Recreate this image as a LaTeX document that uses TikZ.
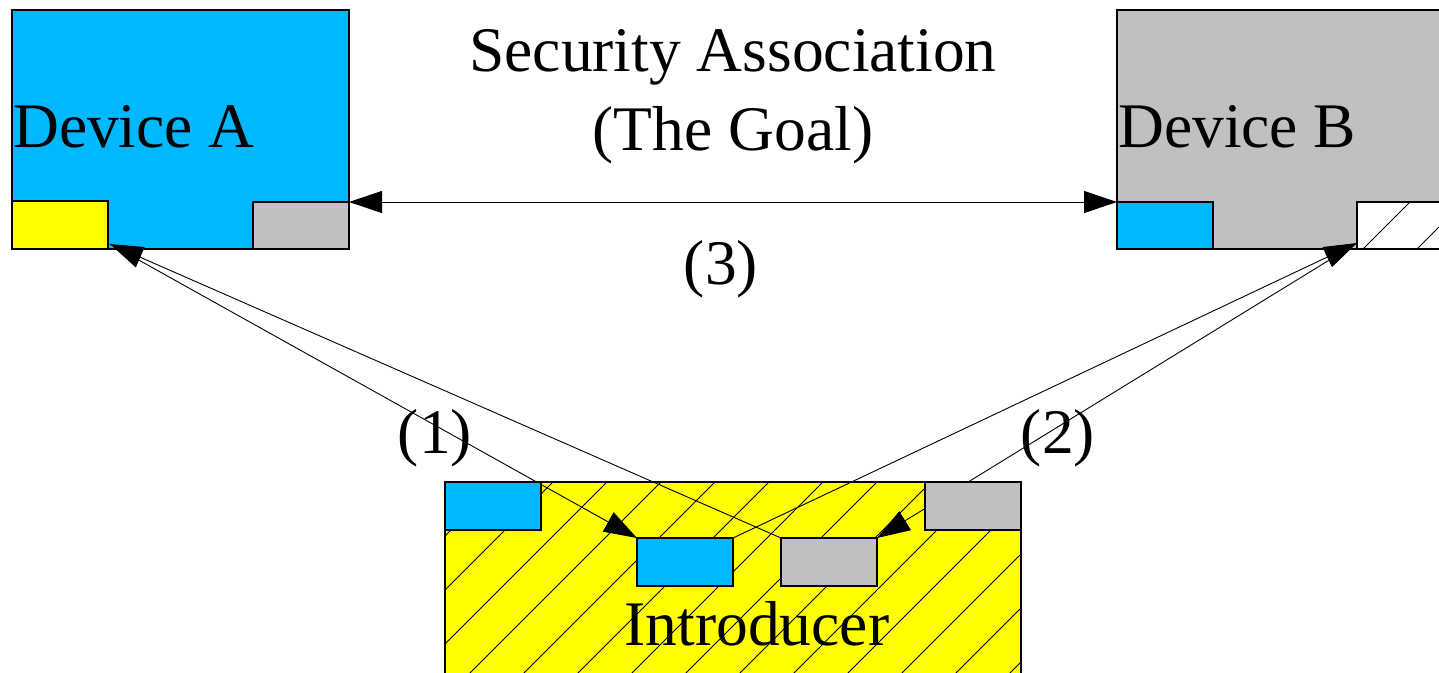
\documentclass[tikz,border=0pt]{standalone}
\usepackage{fontspec}
\setmainfont{Liberation Serif}
\usetikzlibrary{arrows.meta}
\definecolor{devcyan}{RGB}{0,184,255}
\definecolor{devgray}{RGB}{192,192,192}
\definecolor{devyellow}{RGB}{255,255,0}
\begin{document}
\begin{tikzpicture}[x=1pt,y=-1pt,
  box/.style={draw, line width=1.1pt, inner sep=0pt, outer sep=0pt, anchor=north west},
  small/.style={box, minimum width=96pt, minimum height=48pt},
  lbl/.style={font=\fontsize{63.5}{70}\selectfont, inner sep=0pt},
  conn/.style={line width=0.9pt},
  tipend/.style={-{Triangle[length=33pt,width=22pt]}},
  tipboth/.style={{Triangle[length=33pt,width=22pt]}-{Triangle[length=33pt,width=22pt]}},
  hatchline/.style={line width=0.8pt}]
\clip (0,0) rectangle (1439,672);
\fill[white] (0,0) rectangle (1439,672);

% Device A
\node[box, fill=devcyan, minimum width=337pt, minimum height=239pt] (devA) at (12,10) {};
\node[small, fill=devyellow, minimum height=48pt] (ay) at (12,201) {};
\node[small, fill=devgray, minimum height=47pt] (ag) at (253,202) {};

% Device B
\node[box, fill=devgray, minimum width=337pt, minimum height=239pt] (devB) at (1117,10) {};
\node[small, fill=devcyan, minimum height=47pt] (bc) at (1117,202) {};
\node[small, fill=white, minimum height=47pt] (bh) at (1357,202) {};
\begin{scope}
  \clip (bh.north west) rectangle (bh.south east);
  \foreach \k in {-1,...,3}{
    \draw[hatchline] ({1612+54*\k-202},202) -- ({1612+54*\k-249},249);
  }
\end{scope}
\draw[line width=1.1pt] (bh.north west) rectangle (bh.south east);

% Introducer
\node[box, fill=devyellow, minimum width=576pt, minimum height=260pt] (intro) at (445,482) {};
\begin{scope}
  \clip (intro.north west) rectangle (intro.south east);
  \foreach \k in {-3,...,13}{
    \draw[hatchline] ({1089+54*\k-482},482) -- ({1089+54*\k-800},800);
  }
\end{scope}
\draw[line width=1.1pt] (intro.north west) rectangle (intro.south east);
\node[small, fill=devcyan] (ic) at (637,538) {};
\node[small, fill=devgray] (ig) at (781,538) {};

% texts
\node[lbl, anchor=base west] (tA) at (13,147) {Device A};
\node[lbl, anchor=base west] (tB) at (1118,147) {Device B};
\node[lbl, anchor=base] (tSA) at (733,71) {Security Association};
\node[lbl, anchor=base] (tG) at (733,150) {(The Goal)};
\node[lbl, anchor=base] (t3) at (721,284) {(3)};
\node[lbl, anchor=base] (t1) at (435,453) {(1)};
\node[lbl, anchor=base] (t2) at (1058,453) {(2)};
\node[lbl, anchor=base] (tI) at (757,645) {Introducer};

% connectors
\coordinate (pa) at (110,244);
\coordinate (pb) at (1357,243);
\draw[conn, tipboth] (ag.north east) -- (bc.north west);
\draw[conn, tipend] (pa) -- (ic.north west);
\draw[conn, tipend] (ig.north west) -- (pa);
\draw[conn, tipend] (pb) -- (ig.north east);
\draw[conn, tipend] (ic.north east) -- (pb);

% introducer upper boxes
\node[small, fill=devcyan] (iuc) at (445,482) {};
\node[small, fill=devgray] (iug) at (925,482) {};
\end{tikzpicture}
\end{document}
